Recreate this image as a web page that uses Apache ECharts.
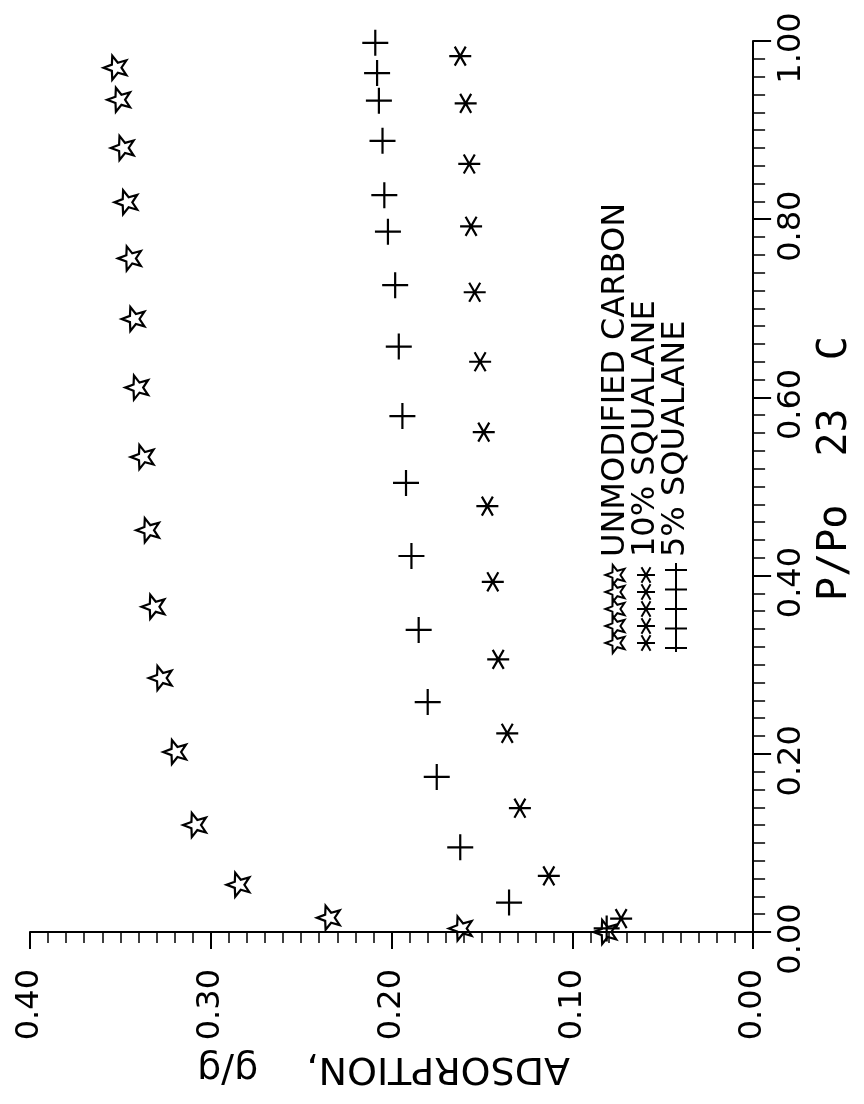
<!DOCTYPE html>
<html>
<head>
<meta charset="utf-8">
<script src="https://cdn.jsdelivr.net/npm/echarts@6/dist/echarts.min.js"></script>
<style>
html,body{margin:0;padding:0;background:#fff;}
#chart{width:864px;height:1104px;}
</style>
</head>
<body>
<div id="chart"></div>
<script>
// ---- data (P/Po, adsorption g/g) ----
const unmodP = [0.000, 0.004, 0.016, 0.053, 0.120, 0.202, 0.285, 0.365, 0.451, 0.533, 0.611, 0.688, 0.756, 0.819, 0.880, 0.934, 0.970];
const unmodA = [0.082, 0.162, 0.235, 0.285, 0.309, 0.320, 0.328, 0.332, 0.335, 0.338, 0.341, 0.343, 0.345, 0.347, 0.349, 0.351, 0.353];

const sq10P = [0.015, 0.063, 0.139, 0.223, 0.306, 0.393, 0.478, 0.561, 0.640, 0.718, 0.792, 0.862, 0.930, 0.983];
const sq10A = [0.073, 0.113, 0.129, 0.136, 0.141, 0.144, 0.147, 0.149, 0.151, 0.154, 0.156, 0.157, 0.159, 0.162];

const sq5P = [0.004, 0.033, 0.095, 0.174, 0.258, 0.339, 0.422, 0.504, 0.579, 0.657, 0.726, 0.786, 0.827, 0.888, 0.933, 0.964, 0.998];
const sq5A = [0.081, 0.135, 0.162, 0.175, 0.180, 0.185, 0.189, 0.192, 0.194, 0.196, 0.198, 0.202, 0.204, 0.205, 0.207, 0.208, 0.209];

const seriesNames = ['UNMODIFIED CARBON', '10% SQUALANE', '5% SQUALANE'];
const xTitle = 'ADSORPTION,    g/g';
const yTitle = 'P/Po  23  C';

// ---- symbols ----
const STAR_PTS = [[-100,0],[-34,-24.7],[-30.9,-95.1],[13,-39.9],[80.9,-58.8],[42,0],[80.9,58.8],[13,39.9],[-30.9,95.1],[-34,24.7]];
const STAR = 'path://M' + STAR_PTS.map(p => p[0] + ',' + p[1]).join(' L') + ' Z';
const AST = 'path://M-100,0 L100,0 M-50,-86.6 L50,86.6 M50,-86.6 L-50,86.6';
const PLUS = 'path://M-100,0 L100,0 M0,-100 L0,100';

function pairs(a, p) { return a.map((v, i) => [v, p[i]]); }

const FONT = 'DejaVu Sans';
const MONO = 'DejaVu Sans Mono';
const chart = echarts.init(document.getElementById('chart'), null, {renderer: 'canvas'});

const axisCommon = {
  axisLine: {show: true, onZero: false, lineStyle: {color: '#000', width: 2}},
  axisTick: {show: true, inside: false, lineStyle: {color: '#000', width: 2}},
  minorTick: {show: true, splitNumber: 10, lineStyle: {color: '#000', width: 1.5}},
  splitLine: {show: false},
  minorSplitLine: {show: false}
};

function legendGraphics() {
  const els = [];
  const cols = [616, 646, 676];
  const textStartY = 557;
  const stroke = {fill: 'none', stroke: '#000', lineWidth: 2};
  for (let i = 0; i < 5; i++) {
    const cx = cols[0], cy = 575 + i * 17, s = 0.105;
    els.push({type: 'polygon', shape: {points: STAR_PTS.map(p => [cx + p[0] * s, cy + p[1] * s])},
      style: stroke});
  }
  for (let i = 0; i < 5; i++) {
    const cx = cols[1], cy = 575 + i * 17, r = 9;
    [[1, 0], [0.5, 0.866], [0.5, -0.866]].forEach(d => {
      els.push({type: 'line', shape: {x1: cx - d[0] * r, y1: cy - d[1] * r, x2: cx + d[0] * r, y2: cy + d[1] * r}, style: stroke});
    });
  }
  // connected plus markers
  els.push({type: 'line', shape: {x1: cols[2], y1: 563, x2: cols[2], y2: 652}, style: stroke});
  for (let i = 0; i < 5; i++) {
    const cy = 570 + i * 19.5;
    els.push({type: 'line', shape: {x1: cols[2] - 11, y1: cy, x2: cols[2] + 11, y2: cy}, style: stroke});
  }
  seriesNames.forEach((n, i) => {
    els.push({type: 'text', x: cols[i], y: textStartY, rotation: Math.PI / 2,
      style: {text: n, x: 0, y: 0, align: 'left', verticalAlign: 'middle', fill: '#000',
        font: '32px "' + FONT + '"'}});
  });
  return els;
}

const symStyle = {color: 'rgba(0,0,0,0)', borderColor: '#000', borderWidth: 2.2, opacity: 1};

const option = {
  animation: false,
  backgroundColor: '#fff',
  grid: {left: 30, right: 104, top: 41, bottom: 172},
  xAxis: Object.assign({}, axisCommon, {
    type: 'value', min: 0, max: 0.4, interval: 0.1, inverse: true, position: 'bottom',
    name: xTitle, nameLocation: 'middle', nameGap: 117, nameRotate: 180,
    nameTextStyle: {fontFamily: FONT, fontSize: 38, color: '#000', padding: [0, 0, 0, 16]},
    axisTick: Object.assign({}, axisCommon.axisTick, {length: 17}),
    minorTick: Object.assign({}, axisCommon.minorTick, {length: 11}),
    axisLabel: {rotate: 90, margin: 37, fontSize: 32, fontFamily: FONT, color: '#000',
      formatter: v => v.toFixed(2)}
  }),
  yAxis: Object.assign({}, axisCommon, {
    type: 'value', min: 0, max: 1, interval: 0.2, position: 'right',
    name: yTitle, nameLocation: 'middle', nameGap: 56, nameRotate: 90,
    nameTextStyle: {fontFamily: MONO, fontSize: 40, color: '#000', padding: [0, 0, 0, 36]},
    axisTick: Object.assign({}, axisCommon.axisTick, {length: 18}),
    minorTick: Object.assign({}, axisCommon.minorTick, {length: 12}),
    axisLabel: {rotate: 90, margin: 23, fontSize: 32, fontFamily: FONT, color: '#000',
      padding: [0, 14, 0, 0], formatter: v => v.toFixed(2)}
  }),
  series: [
    {name: seriesNames[0], type: 'scatter', clip: false, data: pairs(unmodA, unmodP),
      symbol: STAR, symbolSize: 24, symbolKeepAspect: true, itemStyle: symStyle},
    {name: seriesNames[1], type: 'scatter', clip: false, data: pairs(sq10A, sq10P),
      symbol: AST, symbolSize: 22, symbolKeepAspect: true, itemStyle: symStyle},
    {name: seriesNames[2], type: 'scatter', clip: false, data: pairs(sq5A, sq5P),
      symbol: PLUS, symbolSize: 26, symbolKeepAspect: true, itemStyle: symStyle}
  ],
  graphic: legendGraphics()
};
chart.setOption(option);
</script>
</body>
</html>
